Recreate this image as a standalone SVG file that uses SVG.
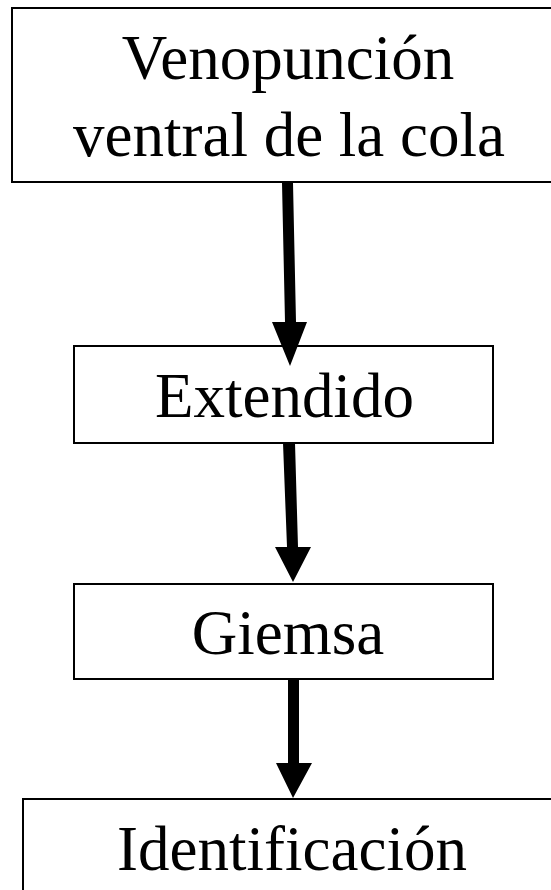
<svg xmlns="http://www.w3.org/2000/svg" width="551" height="890" viewBox="0 0 551 890">
  <style>
    .box { fill: #ffffff; stroke: #000000; stroke-width: 2; }
    .label { font-family: "Liberation Serif", "Times New Roman", serif; font-size: 63px; fill: #000000; text-anchor: middle; }
    .arrow { fill: #000000; stroke: none; }
  </style>
  <rect width="551" height="890" fill="#ffffff"/>

  <g id="node-venopuncion">
    <rect class="box" x="12" y="8" width="560" height="174"/>
    <text class="label" x="288" y="79">Venopunción</text>
    <text class="label" x="289" y="156">ventral de la cola</text>
  </g>

  <g id="node-extendido">
    <rect class="box" x="74" y="346" width="419" height="97"/>
    <text class="label" x="284.5" y="417">Extendido</text>
  </g>

  <g id="node-giemsa">
    <rect class="box" x="74" y="584" width="419" height="95"/>
    <text class="label" x="288" y="654">Giemsa</text>
  </g>

  <g id="node-identificacion">
    <rect class="box" x="23" y="799" width="560" height="120"/>
    <text class="label" x="292" y="870">Identificación</text>
  </g>

  <g id="connectors">
    <polygon class="arrow" points="282,183 293,183 296,322 307,322 290,366 272,322 285,322"/>
    <polygon class="arrow" points="283,443 295,443 298,547 311,547 293,582 275,547 287,547"/>
    <polygon class="arrow" points="288,680 299,680 299,763 312,763 293,798 276,763 288,763"/>
  </g>
</svg>
